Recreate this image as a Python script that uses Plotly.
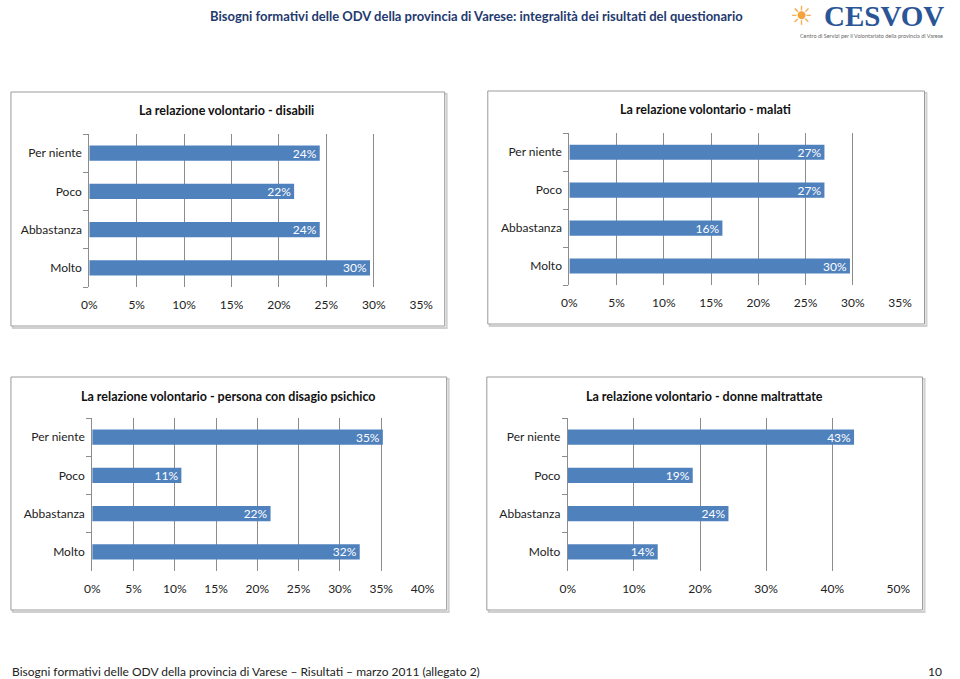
import plotly.graph_objects as go

W, H = 960, 679

categories = ["Per niente", "Poco", "Abbastanza", "Molto"]

titles = [
    "La relazione volontario - disabili",
    "La relazione volontario - malati",
    "La relazione volontario - persona con disagio psichico",
    "La relazione volontario - donne maltrattate",
]
disabili = [0.243, 0.216, 0.243, 0.296]
malati = [0.270, 0.270, 0.162, 0.297]
psichico = [0.352, 0.108, 0.216, 0.324]
donne = [0.433, 0.189, 0.243, 0.136]
series = [disabili, malati, psichico, donne]

x_ranges = [0.35, 0.35, 0.40, 0.50]
x_dticks = [0.05, 0.05, 0.05, 0.10]

header_title = "Bisogni formativi delle ODV della provincia di Varese: integralità dei risultati del questionario"
footer_text = "Bisogni formativi delle ODV della provincia di Varese – Risultati – marzo 2011 (allegato 2)"
page_number = "10"
logo_text = "CESVOV"
logo_sub = "Centro di Servizi per il Volontariato della provincia di Varese"

# layout (pixels)
plot_px = [
    (83, 422, 134, 287),
    (573.3, 911, 133.3, 285),
    (86, 423.3, 418, 571),
    (571.7, 909.3, 418, 571),
]
panel_px = [
    (3, 446, 92, 326),
    (490, 936, 91, 324),
    (3, 448, 377, 610),
    (489, 934, 377, 610),
]
title_px = [(223, 111), (712, 110), (225, 396), (711, 396)]

def px(x):
    return x / W

def py(y):
    return 1 - y / H

FONT = "Lato"
BAR = "#4F81BD"
GRID = "#8C8C8C"

fig = go.Figure()
shapes = []
annotations = []

for i in range(4):
    ax = "" if i == 0 else str(i + 1)
    x0, x1, y0, y1 = plot_px[i]
    fig.add_trace(go.Bar(
        x=series[i], y=categories, orientation="h",
        marker=dict(color=BAR, line=dict(width=0)),
        width=0.4,
        texttemplate="%{x:.0%}",
        textposition="inside", insidetextanchor="end",
        textfont=dict(color="white", size=12, family=FONT),
        constraintext="none",
        xaxis="x" + ax, yaxis="y" + ax, showlegend=False,
        hoverinfo="skip",
    ))
    fig.layout["xaxis" + ax] = dict(
        domain=[px(x0), px(x1)], anchor="y" + ax,
        range=[0, x_ranges[i]], dtick=x_dticks[i], tick0=0,
        tickformat=".0%", showgrid=True, gridcolor=GRID, gridwidth=1,
        zeroline=False, showline=False, ticks="",
        tickfont=dict(family=FONT, size=12, color="#222"),
        ticklabelstandoff=9, fixedrange=True,
    )
    fig.layout["yaxis" + ax] = dict(
        domain=[py(y1), py(y0)], anchor="x" + ax,
        categoryorder="array", categoryarray=categories[::-1],
        showline=True, linecolor=GRID, linewidth=1,
        ticks="outside", tickson="boundaries", ticklen=5, tickcolor=GRID,
        showgrid=False, zeroline=False,
        tickfont=dict(family=FONT, size=12, color="#222"),
        ticklabelstandoff=4, fixedrange=True,
    )
    bx0, bx1, by0, by1 = panel_px[i]
    shapes.append(dict(type="rect", xref="paper", yref="paper",
                       x0=px(bx0 + 2), x1=px(bx1 + 2), y0=py(by1 + 2), y1=py(by0 + 2),
                       line=dict(color="#D0D0D0", width=2), fillcolor="white", layer="below"))
    shapes.append(dict(type="rect", xref="paper", yref="paper",
                       x0=px(bx0), x1=px(bx1), y0=py(by1), y1=py(by0),
                       line=dict(color="#9A9A9A", width=1), fillcolor="white", layer="below"))
    tx, ty = title_px[i]
    annotations.append(dict(text="<b>" + titles[i] + "</b>", xref="paper", yref="paper",
                            x=px(tx), y=py(ty), xanchor="center", yanchor="middle",
                            showarrow=False, font=dict(family=FONT, size=12.5, color="#111")))

# header
annotations.append(dict(text="<b>" + header_title + "</b>", xref="paper", yref="paper",
                        x=px(478), y=py(16), xanchor="center", yanchor="middle",
                        showarrow=False, font=dict(family=FONT, size=13, color="#1F3A6E")))
annotations.append(dict(text="<b>" + logo_text + "</b>", xref="paper", yref="paper",
                        x=px(958), y=py(16), xanchor="right", yanchor="middle",
                        showarrow=False, font=dict(family="Liberation Serif", size=29, color="#2A5596")))
annotations.append(dict(text="☀", xref="paper", yref="paper",
                        x=px(810), y=py(16), xanchor="center", yanchor="middle",
                        showarrow=False, font=dict(family="DejaVu Sans", size=26, color="#F2A33A")))
annotations.append(dict(text=logo_sub, xref="paper", yref="paper",
                        x=px(957), y=py(36), xanchor="right", yanchor="middle",
                        showarrow=False, font=dict(family=FONT, size=5.5, color="#666")))
# footer
annotations.append(dict(text=footer_text, xref="paper", yref="paper",
                        x=px(2), y=py(671), xanchor="left", yanchor="middle",
                        showarrow=False, font=dict(family=FONT, size=12, color="#222")))
annotations.append(dict(text=page_number, xref="paper", yref="paper",
                        x=px(956), y=py(671), xanchor="right", yanchor="middle",
                        showarrow=False, font=dict(family=FONT, size=12, color="#222")))

fig.update_layout(
    width=W, height=H, margin=dict(l=0, r=0, t=0, b=0),
    paper_bgcolor="white", plot_bgcolor="rgba(0,0,0,0)",
    shapes=shapes, annotations=annotations, showlegend=False,
    font=dict(family=FONT),
)

fig.write_html("out.html", include_plotlyjs=True,
               config={"displayModeBar": False, "responsive": False},
               post_script="document.body.style.margin='0';document.body.style.overflow='hidden';")
